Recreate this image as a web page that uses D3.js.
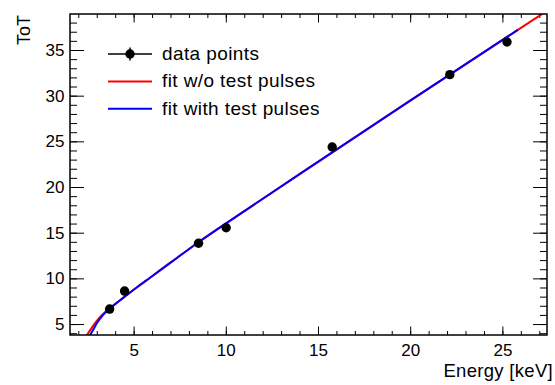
<!DOCTYPE html>
<html>
<head>
<meta charset="utf-8">
<script src="https://cdn.jsdelivr.net/npm/d3@7"></script>
<style>
	body { margin: 0; background: #fff; }
	svg { display: block; font-family: "Liberation Sans", Arial, Helvetica, sans-serif; }
</style>
</head>
<body>
<div id="idContent"></div>
<script>
// measured points
var aEnergy = [3.70, 4.51, 8.52, 10.02, 15.77, 22.15, 25.25],
	aToT = [6.64, 8.61, 13.84, 15.54, 24.38, 32.30, 35.88];

// fit w/o test pulses (red)
var aFitNoTpE = [2.40, 2.60, 2.87, 3.20, 3.56, 4.00, 4.51, 5.20, 5.91, 7.00, 8.44, 11.33, 15.00, 20.00, 25.84, 27.50],
	aFitNoTpT = [3.60, 4.20, 5.00, 5.80, 6.50, 7.20, 8.00, 9.05, 10.10, 11.72, 13.85, 17.80, 22.75, 29.45, 37.20, 39.40];

// fit with test pulses (blue)
var aFitTpE = [2.58, 2.80, 2.98, 3.30, 3.60, 4.00, 4.51, 5.20, 5.91, 7.00, 8.44, 11.33, 15.00, 20.00, 25.84],
	aFitTpT = [3.60, 4.35, 5.00, 5.90, 6.50, 7.18, 7.98, 9.05, 10.10, 11.72, 13.85, 17.80, 22.75, 29.45, 37.20];

var aXTicks = [5, 10, 15, 20, 25],
	aYTicks = [5, 10, 15, 20, 25, 30, 35],
	aXDomain = [1.55, 27.42],
	aYDomain = [3.8, 38.94];

var aLegend = ["data points", "fit w/o test pulses", "fit with test pulses"];

function toPoints(aX, aY) {
	return aX.map(function (x, i) { return { x: x, y: aY[i] }; });
}

function createGraph() {
	var margin = { top: 14, right: 8, bottom: 50, left: 70 },
		width = 555 - margin.left - margin.right,
		height = 385 - margin.top - margin.bottom;

	var x = d3.scaleLinear().domain(aXDomain).range([0, width]);
	var y = d3.scaleLinear().domain(aYDomain).range([height, 0]);

	var svg = d3.select("#idContent").append("svg")
		.attr("width", 555)
		.attr("height", 385);

	var oChart = svg.append("g")
		.attr("transform", "translate(" + margin.left + "," + margin.top + ")");

	oChart.append("clipPath").attr("id", "clipFrame")
		.append("rect").attr("width", width).attr("height", height);

	var xMinor = d3.range(2, 28), yMinor = d3.range(4, 39);

	// ticks point inward on all four sides
	function styleAxis(g) {
		g.select(".domain").remove();
		g.selectAll(".tick line").attr("stroke", "#000").attr("stroke-width", 1);
		g.selectAll(".tick text").attr("font-size", "17px").attr("fill", "#000");
	}

	oChart.append("g").attr("transform", "translate(0," + height + ")")
		.call(d3.axisBottom(x).tickValues(xMinor).tickSize(-4).tickFormat(""))
		.call(styleAxis);
	oChart.append("g").attr("transform", "translate(0," + height + ")")
		.call(d3.axisBottom(x).tickValues(aXTicks).tickSize(-8.5).tickPadding(9).tickFormat(d3.format("d")))
		.call(styleAxis);
	oChart.append("g")
		.call(d3.axisTop(x).tickValues(xMinor).tickSize(-4).tickFormat(""))
		.call(styleAxis);
	oChart.append("g")
		.call(d3.axisTop(x).tickValues(aXTicks).tickSize(-8.5).tickFormat(""))
		.call(styleAxis);

	oChart.append("g")
		.call(d3.axisLeft(y).tickValues(yMinor).tickSize(-7).tickFormat(""))
		.call(styleAxis);
	oChart.append("g")
		.call(d3.axisLeft(y).tickValues(aYTicks).tickSize(-14).tickPadding(5.5).tickFormat(d3.format("d")))
		.call(styleAxis);
	oChart.append("g").attr("transform", "translate(" + width + ",0)")
		.call(d3.axisRight(y).tickValues(yMinor).tickSize(-7).tickFormat(""))
		.call(styleAxis);
	oChart.append("g").attr("transform", "translate(" + width + ",0)")
		.call(d3.axisRight(y).tickValues(aYTicks).tickSize(-14).tickFormat(""))
		.call(styleAxis);

	var line = d3.line()
		.x(function (d) { return x(d.x); })
		.y(function (d) { return y(d.y); })
		.curve(d3.curveMonotoneX);

	var oCurves = oChart.append("g").attr("clip-path", "url(#clipFrame)");
	oCurves.append("path")
		.datum(toPoints(aFitNoTpE, aFitNoTpT))
		.attr("fill", "none")
		.attr("stroke", "#ff0000")
		.attr("stroke-width", 2)
		.attr("d", line);
	oCurves.append("path")
		.datum(toPoints(aFitTpE, aFitTpT))
		.attr("fill", "none")
		.attr("stroke", "#0000ff")
		.attr("stroke-width", 2)
		.attr("d", line);

	oChart.selectAll(".dot")
		.data(toPoints(aEnergy, aToT))
		.enter().append("circle")
		.attr("class", "dot")
		.attr("cx", function (d) { return x(d.x); })
		.attr("cy", function (d) { return y(d.y); })
		.attr("r", 4.7)
		.attr("fill", "#000");

	oChart.append("rect")
		.attr("width", width)
		.attr("height", height)
		.attr("fill", "none")
		.attr("stroke", "#000")
		.attr("stroke-width", 1.5);

	// legend
	var oLegend = svg.append("g").attr("transform", "translate(108,54)");
	var aColors = ["#000", "#ff0000", "#0000ff"];
	aLegend.forEach(function (sLabel, i) {
		var yRow = i * 27.4;
		oLegend.append("line")
			.attr("x1", 0).attr("x2", 44)
			.attr("y1", yRow).attr("y2", yRow)
			.attr("stroke", aColors[i])
			.attr("stroke-width", i === 0 ? 1.5 : 2);
		if (i === 0) {
			oLegend.append("line")
				.attr("x1", 22).attr("x2", 22)
				.attr("y1", yRow - 6.5).attr("y2", yRow + 6.5)
				.attr("stroke", "#000").attr("stroke-width", 1.5);
			oLegend.append("circle")
				.attr("cx", 22).attr("cy", yRow).attr("r", 4.7).attr("fill", "#000");
		}
		oLegend.append("text")
			.attr("x", 54)
			.attr("y", yRow + 6)
			.attr("font-size", "19px")
			.attr("letter-spacing", "0.4px")
			.attr("fill", "#000")
			.text(sLabel);
	});

	svg.append("text")
		.attr("x", 553)
		.attr("y", 376.5)
		.attr("text-anchor", "end")
		.attr("font-size", "18.5px")
		.attr("letter-spacing", "0.3px")
		.text("Energy [keV]");

	svg.append("text")
		.attr("transform", "translate(30,15) rotate(-90)")
		.attr("text-anchor", "end")
		.attr("font-size", "18px")
		.text("ToT");
}

createGraph();
</script>
</body>
</html>
